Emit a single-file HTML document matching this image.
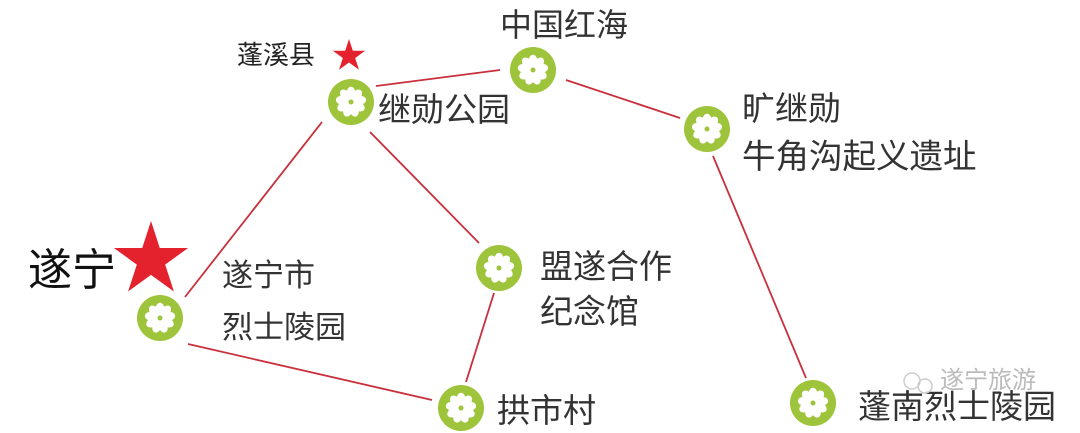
<!DOCTYPE html>
<html><head><meta charset="utf-8"><style>
html,body{margin:0;padding:0;background:#fff;}
svg{display:block}
text{font-family:"Liberation Sans","Noto Sans CJK SC",sans-serif;fill:#333;}
</style></head><body>
<svg width="1080" height="433" viewBox="0 0 1080 433" xmlns="http://www.w3.org/2000/svg">
<defs>
<g id="ic">
<circle r="23" fill="#9dc43a"/>
<g fill="#fff">
<ellipse cx="0" cy="-8.5" rx="4.6" ry="6.8"/>
<ellipse cx="0" cy="-8.5" rx="4.6" ry="6.8" transform="rotate(40)"/>
<ellipse cx="0" cy="-8.5" rx="4.6" ry="6.8" transform="rotate(80)"/>
<ellipse cx="0" cy="-8.5" rx="4.6" ry="6.8" transform="rotate(120)"/>
<ellipse cx="0" cy="-8.5" rx="4.6" ry="6.8" transform="rotate(160)"/>
<ellipse cx="0" cy="-8.5" rx="4.6" ry="6.8" transform="rotate(200)"/>
<ellipse cx="0" cy="-8.5" rx="4.6" ry="6.8" transform="rotate(240)"/>
<ellipse cx="0" cy="-8.5" rx="4.6" ry="6.8" transform="rotate(280)"/>
<ellipse cx="0" cy="-8.5" rx="4.6" ry="6.8" transform="rotate(320)"/>
</g>
<circle r="2.5" fill="#9dc43a"/>
</g>
</defs>
<g stroke="#c8303c" stroke-width="1.8">
<line x1="376" y1="86" x2="500" y2="70"/>
<line x1="566" y1="80" x2="680" y2="118"/>
<line x1="322" y1="122" x2="185" y2="297"/>
<line x1="370" y1="132" x2="479" y2="243"/>
<line x1="494" y1="293" x2="466" y2="382"/>
<line x1="188" y1="344" x2="432" y2="400"/>
<line x1="713" y1="156" x2="806" y2="378"/>
</g>
<use href="#ic" x="351" y="102"/>
<use href="#ic" x="533" y="70"/>
<use href="#ic" x="707" y="129"/>
<use href="#ic" x="160" y="318"/>
<use href="#ic" x="499" y="268"/>
<use href="#ic" x="461" y="408"/>
<use href="#ic" x="813" y="403"/>
<polygon fill="#e4222e" transform="translate(151,260) scale(39)" points="0,-1 0.2245,-0.309 0.951,-0.309 0.3633,0.118 0.5878,0.809 0,0.382 -0.5878,0.809 -0.3633,0.118 -0.951,-0.309 -0.2245,-0.309"/>
<polygon fill="#e4222e" transform="translate(349,56) scale(17)" points="0,-1 0.2245,-0.309 0.951,-0.309 0.3633,0.118 0.5878,0.809 0,0.382 -0.5878,0.809 -0.3633,0.118 -0.951,-0.309 -0.2245,-0.309"/>
<text x="500" y="36" font-size="32">中国红海</text>
<text x="237" y="64" font-size="26" style="fill:#222">蓬溪县</text>
<text x="378" y="121" font-size="33">继勋公园</text>
<text x="742" y="120" font-size="33">旷继勋</text>
<text x="742" y="168" font-size="33.5">牛角沟起义遗址</text>
<text x="28" y="285" font-size="44" style="fill:#111">遂宁</text>
<text x="222" y="286" font-size="31">遂宁市</text>
<text x="222" y="338" font-size="31">烈士陵园</text>
<text x="540" y="278" font-size="33">盟遂合作</text>
<text x="540" y="323" font-size="33">纪念馆</text>
<text x="497" y="422" font-size="33">拱市村</text>
<text x="858" y="418" font-size="33">蓬南烈士陵园</text>
<text x="940" y="388" font-size="24" style="fill:#bbb">遂宁旅游</text>
<circle cx="912" cy="381" r="8" fill="none" stroke="#ccc" stroke-width="1.5"/>
<circle cx="925" cy="386" r="7" fill="none" stroke="#ccc" stroke-width="1.5"/>
</svg>
</body></html>
